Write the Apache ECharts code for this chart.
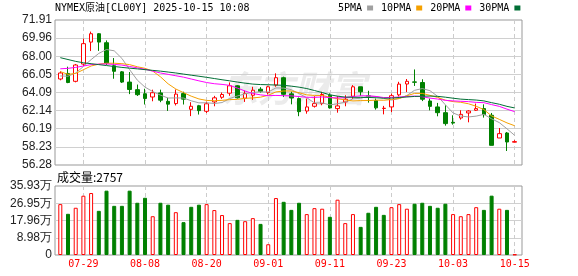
<!DOCTYPE html>
<html><head><meta charset="utf-8">
<script src="https://cdn.jsdelivr.net/npm/echarts@6/dist/echarts.min.js"></script>
<style>html,body{margin:0;padding:0;background:#fff}#c{width:578px;height:276px}</style>
</head><body><div id="c"></div>
<script>
const titleText = 'NYMEX原油[CL00Y] 2025-10-15 10:08';
const dates = ['07-24','07-25','07-28','07-29','07-30','07-31','08-01','08-04','08-05','08-06',
  '08-07','08-08','08-11','08-12','08-13','08-14','08-15','08-18','08-19','08-20',
  '08-21','08-22','08-25','08-26','08-27','08-28','08-29','09-01','09-02','09-03',
  '09-04','09-05','09-08','09-09','09-10','09-11','09-12','09-15','09-16','09-17',
  '09-18','09-19','09-22','09-23','09-24','09-25','09-26','09-29','09-30','10-01',
  '10-02','10-03','10-06','10-07','10-08','10-09','10-10','10-13','10-14','10-15'];
const xTickLabels = ['07-29','08-08','08-20','09-01','09-11','09-23','10-03','10-15'];
const opens = [65.55,66.15,65.30,67.16,69.53,70.43,69.46,66.98,66.32,65.22,
  64.40,63.96,63.61,64.05,63.14,62.90,63.98,62.28,62.67,62.07,
  63.08,63.58,64.02,64.82,63.48,63.80,64.45,64.09,64.90,65.69,
  63.95,63.44,62.10,62.61,62.90,63.80,62.36,63.08,63.69,64.71,
  63.74,63.22,62.37,62.54,63.84,65.01,65.24,65.17,63.18,62.54,
  61.92,60.88,61.35,61.89,62.18,62.36,61.64,59.19,59.73,58.74];
const closes = [66.20,65.17,67.06,69.36,70.43,69.53,67.27,66.38,65.22,64.42,
  63.86,63.45,64.07,63.27,62.84,63.92,63.38,62.61,62.14,62.88,
  63.52,63.88,64.82,63.52,63.99,64.34,64.20,64.71,65.69,63.90,
  63.50,62.03,62.54,62.90,63.88,62.43,62.65,63.37,64.71,64.17,
  63.62,62.44,62.40,63.75,65.00,65.30,65.20,63.37,62.60,61.92,
  60.74,60.80,61.74,62.10,62.36,61.71,58.40,59.66,58.76,58.80];
const lows = [65.41,65.10,65.19,66.95,68.56,68.58,67.05,65.58,65.12,63.92,
  63.72,62.80,63.15,63.05,62.11,62.70,62.80,61.55,61.72,61.88,
  62.61,63.41,63.74,63.44,63.08,63.30,64.08,63.88,64.71,63.60,
  62.82,61.54,61.81,62.47,62.72,62.36,61.92,62.61,63.40,63.74,
  63.00,62.25,61.74,61.98,63.67,64.15,64.80,63.17,62.17,61.53,
  60.52,60.63,61.17,60.88,62.10,61.39,58.40,59.19,57.79,58.72];
const highs = [66.38,66.88,67.17,69.90,70.66,70.50,69.71,67.81,66.41,66.30,
  64.95,64.50,64.40,64.40,63.52,64.42,64.18,63.05,62.76,63.12,
  63.73,64.09,65.18,64.89,64.31,64.71,64.67,64.82,66.16,65.80,
  64.20,63.56,63.44,63.69,64.17,64.00,63.70,63.80,64.89,64.71,
  64.28,63.44,62.65,63.97,65.25,65.55,66.58,65.52,63.44,62.97,
  62.72,61.64,62.18,62.18,62.90,62.82,61.89,60.27,59.84,58.95];
// volume in 万
const volumes = [26.5,21.45,24.6,30.87,32.27,23.0,33.5,25.6,25.6,33.5,
  27.2,29.8,20.2,27.2,26.2,22.3,17.1,25.1,26.2,26.5,
  23.4,20.8,16.6,18.3,17.6,19.2,16.2,5.6,29.65,27.7,
  23.5,27.2,21.3,24.4,24.1,19.9,28.8,16.6,21.3,14.65,
  22.0,25.1,20.9,24.9,26.5,24.1,26.7,27.2,25.6,24.6,
  26.7,21.3,20.2,21.3,24.9,23.5,30.9,24.1,23.5,0.2757];
const ma5 = [65.88,65.85,66.20,66.90,67.64,68.31,68.73,68.59,67.77,66.56,
  65.43,64.67,64.20,63.81,63.50,63.51,63.50,63.20,62.98,62.99,
  62.91,63.01,63.45,63.72,63.95,64.11,64.17,64.15,64.59,64.57,
  64.40,63.97,63.53,62.97,62.97,62.76,62.88,63.05,63.41,63.47,
  63.70,63.66,63.47,63.28,63.44,63.78,64.33,64.52,64.29,63.68,
  62.77,61.89,61.56,61.46,61.55,61.74,61.26,60.85,60.18,59.47];
const ma10 = [66.35,66.05,66.15,66.55,66.95,67.15,67.25,67.25,67.20,67.10,
  66.87,66.70,66.40,65.79,65.03,64.47,64.08,63.70,63.40,63.24,
  63.21,63.25,63.33,63.35,63.47,63.51,63.59,63.80,64.16,64.26,
  64.26,64.07,63.84,63.78,63.77,63.58,63.42,63.29,63.19,63.22,
  63.23,63.27,63.26,63.34,63.45,63.74,64.00,64.00,63.79,63.56,
  63.27,63.11,63.04,62.88,62.61,62.25,61.57,61.20,60.82,60.51];
const ma20 = [66.65,66.70,66.80,66.95,67.10,67.15,67.17,67.12,67.05,66.90,
  66.75,66.60,66.40,66.20,66.05,65.90,65.75,65.55,65.35,65.17,
  65.04,64.97,64.86,64.57,64.25,63.99,63.84,63.75,63.78,63.75,
  63.73,63.66,63.58,63.57,63.62,63.54,63.51,63.54,63.67,63.74,
  63.74,63.67,63.55,63.56,63.61,63.66,63.71,63.64,63.49,63.39,
  63.25,63.19,63.15,63.11,63.03,63.00,62.79,62.60,62.30,62.03];
const ma30 = [67.85,67.65,67.45,67.30,67.20,67.10,67.00,66.90,66.80,66.72,
  66.64,66.56,66.48,66.40,66.30,66.20,66.08,65.96,65.85,65.73,
  65.60,65.47,65.35,65.22,65.10,65.00,64.95,64.93,64.90,64.87,
  64.78,64.67,64.52,64.31,64.09,63.85,63.70,63.60,63.58,63.57,
  63.56,63.53,63.48,63.49,63.56,63.61,63.67,63.70,63.71,63.68,
  63.59,63.48,63.38,63.33,63.28,63.19,63.00,62.83,62.60,62.43];
const maNames = ['5PMA','10PMA','20PMA','30PMA'];
const priceTicks = [56.28,58.23,60.19,62.14,64.09,66.05,68.00,69.96,71.91];
const volumeTicks = [0,8.98,17.96,26.95,35.93];

const RED = '#ff0000', GREEN = '#008000';
const maColors = ['#a0a0a0','#f5a000','#ff00ff','#006e35'];
const monoFont = '"DejaVu Sans Mono", "Noto Sans CJK SC", monospace';
const sansFont = '"Liberation Sans", Arial, sans-serif';

const isLabeled = (i, v) => xTickLabels.includes(v);
const candleData = opens.map((o, i) => [o, closes[i], lows[i], highs[i]]);
const volumeData = volumes.map((v, i) => {
  const up = i === 0 ? closes[0] >= opens[0] : closes[i] >= closes[i - 1];
  return { value: v, itemStyle: { color: up ? '#fff' : GREEN, borderColor: up ? RED : GREEN, borderWidth: 1 } };
});
const lastVolume = Math.round(volumes[volumes.length - 1] * 10000);

const chart = echarts.init(document.getElementById('c'), null, { renderer: 'canvas' });
const hiddenX = (g) => ({ type: 'value', gridIndex: g, show: false, min: 0, max: 1 });
const gridBox = { show: true, borderColor: '#999', borderWidth: 1, backgroundColor: 'transparent', outerBoundsMode: 'none' };
const plain = { outerBoundsMode: 'none' };

chart.setOption({
  animation: false,
  textStyle: { fontFamily: sansFont },
  title: [
    { text: titleText, left: 55, top: 3, padding: 0,
      textStyle: { fontSize: 10, fontWeight: 'normal', color: '#000', fontFamily: monoFont } },
    { text: '成交量:' + lastVolume, left: 57, top: 171, padding: 0,
      textStyle: { fontSize: 12, fontWeight: 'normal', color: '#000', fontFamily: '"Noto Sans CJK SC", sans-serif' } }
  ],
  legend: {
    data: maNames, left: 338, top: 3, padding: 0, icon: 'rect', itemWidth: 6, itemHeight: 5,
    align: 'right', itemGap: 8,
    textStyle: { fontSize: 10, color: '#000', fontFamily: monoFont }
  },
  graphic: [{
    type: 'text', left: 222, top: 70, z: -10, silent: true,
    style: { text: '东方财富', font: 'italic bold 36px "Noto Sans CJK SC"', fill: '#ebebeb' }
  }],
  grid: [
    Object.assign({ left: 55, top: 20, width: 467, height: 145 }, gridBox),
    Object.assign({ left: 60.3, top: 20, width: 454.4, height: 145 }, plain),
    Object.assign({ left: 55, top: 186, width: 467, height: 69 }, gridBox),
    Object.assign({ left: 60.3, top: 186, width: 454.4, height: 69 }, plain)
  ],
  xAxis: [
    hiddenX(0),
    { type: 'category', gridIndex: 1, data: dates, boundaryGap: false,
      axisLine: { show: false }, axisTick: { show: false }, axisLabel: { show: false },
      splitLine: { show: true, interval: isLabeled, lineStyle: { color: '#cccccc', width: 1, type: [4, 3] } } },
    hiddenX(2),
    { type: 'category', gridIndex: 3, data: dates, boundaryGap: false,
      axisLine: { show: false }, axisTick: { show: false },
      axisLabel: { show: true, interval: isLabeled, color: RED, fontSize: 10, fontFamily: monoFont, margin: 4 },
      splitLine: { show: true, interval: isLabeled, lineStyle: { color: '#cccccc', width: 1, type: [4, 3] } } }
  ],
  yAxis: [
    { type: 'value', gridIndex: 0, min: priceTicks[0], max: priceTicks[priceTicks.length - 1],
      axisLine: { show: false },
      axisTick: { show: false, customValues: priceTicks.slice(1, -1) },
      axisLabel: { customValues: priceTicks, formatter: v => v.toFixed(2), fontSize: 12, color: '#222', margin: 3, fontFamily: sansFont },
      splitLine: { show: true, lineStyle: { color: '#d0d0d0', width: 1 } } },
    { type: 'value', gridIndex: 1, min: priceTicks[0], max: priceTicks[priceTicks.length - 1], show: false },
    { type: 'value', gridIndex: 2, min: volumeTicks[0], max: volumeTicks[volumeTicks.length - 1],
      axisLine: { show: false },
      axisTick: { show: false, customValues: volumeTicks.slice(1, -1) },
      axisLabel: { customValues: volumeTicks, formatter: v => v === 0 ? '0' : v.toFixed(2) + '万', fontSize: 12, color: '#222', margin: 3, fontFamily: sansFont },
      splitLine: { show: true, lineStyle: { color: '#d0d0d0', width: 1 } } },
    { type: 'value', gridIndex: 3, min: volumeTicks[0], max: volumeTicks[volumeTicks.length - 1], show: false }
  ],
  series: [
    { type: 'candlestick', name: 'K', xAxisIndex: 1, yAxisIndex: 1, data: candleData, barWidth: 4, clip: false,
      itemStyle: { color: '#fff', color0: GREEN, borderColor: RED, borderColor0: GREEN, borderWidth: 1 }, z: 2 },
    { type: 'bar', name: 'VOL', xAxisIndex: 3, yAxisIndex: 3, data: volumeData, barWidth: 4, clip: false },
    ...[ma5, ma10, ma20, ma30].map((d, k) => ({
      type: 'line', name: maNames[k], xAxisIndex: 1, yAxisIndex: 1, data: d, symbol: 'none', showSymbol: false,
      clip: false, z: 3, lineStyle: { width: 1, color: maColors[k] }, itemStyle: { color: maColors[k] }
    }))
  ]
});
</script>
</body></html>
